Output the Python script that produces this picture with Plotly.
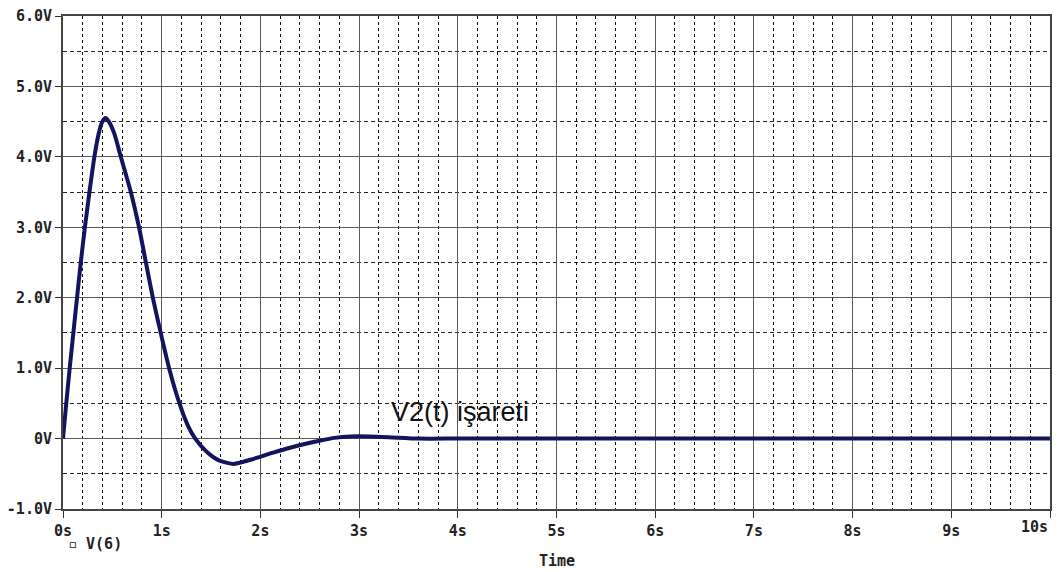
import plotly.graph_objects as go

# V(6) transient response, time in seconds, voltage in volts
time_s = [0, 0.033, 0.068, 0.105, 0.142, 0.18, 0.222, 0.268, 0.318, 0.36, 0.395,
          0.43, 0.465, 0.52, 0.586, 0.687, 0.77, 0.84, 0.91, 0.99, 1.075, 1.18,
          1.27, 1.34, 1.45, 1.58, 1.73, 1.9, 2.13, 2.3, 2.47, 2.6, 2.75, 2.91,
          3.1, 3.3, 3.6, 4.0, 5.0, 6.0, 7.0, 8.0, 9.0, 10.0]
v6 = [0, 0.5, 1.0, 1.5, 2.0, 2.5, 3.0, 3.5, 4.0, 4.32, 4.49,
      4.55, 4.5, 4.33, 4.0, 3.5, 3.0, 2.5, 2.0, 1.5, 1.0, 0.5,
      0.17, 0.0, -0.18, -0.31, -0.36, -0.3, -0.2, -0.13, -0.07, -0.03, 0.01, 0.03,
      0.03, 0.02, 0.0, 0.0, 0.0, 0.0, 0.0, 0.0, 0.0, 0.0]

x_ticks = list(range(0, 11))
x_labels = [f"{t}s" for t in x_ticks]
y_ticks = [-1, 0, 1, 2, 3, 4, 5, 6]
y_labels = ["-1.0V", "0V", "1.0V", "2.0V", "3.0V", "4.0V", "5.0V", "6.0V"]

tick_font = dict(family="DejaVu Sans Mono", size=15, color="#222222", weight="bold")

fig = go.Figure()
fig.add_trace(go.Scatter(
    x=time_s, y=v6, mode="lines",
    line=dict(color="#14145e", width=4, shape="spline", smoothing=0.6),
    showlegend=False,
))

# the last time label sits inside the right edge, so it is placed separately
x_ticktext = x_labels[:-1] + [""]

fig.update_layout(
    width=1059, height=572,
    margin=dict(l=62, r=7, t=14, b=63),
    paper_bgcolor="white", plot_bgcolor="white",
    xaxis=dict(
        range=[0, 10], tickvals=x_ticks, ticktext=x_ticktext,
        tickfont=tick_font, ticks="outside", ticklen=7, tickcolor="#333",
        showgrid=True, gridcolor="#5a5a5a", gridwidth=1,
        showline=True, linecolor="#444", linewidth=2, mirror=True,
        zeroline=False,
        minor=dict(dtick=0.2, showgrid=True, gridcolor="#111", gridwidth=1,
                   griddash="3px,3px", ticks=""),
    ),
    yaxis=dict(
        range=[-1, 6], tickvals=y_ticks, ticktext=y_labels,
        tickfont=tick_font, ticks="outside", ticklen=6, tickcolor="#333",
        showgrid=True, gridcolor="#5a5a5a", gridwidth=1,
        showline=True, linecolor="#444", linewidth=2, mirror=True,
        zeroline=False,
        minor=dict(dtick=0.5, showgrid=True, gridcolor="#222", gridwidth=1,
                   griddash="4px,3px", ticks=""),
    ),
)

fig.add_annotation(
    x=x_ticks[-1], y=0, xref="x", yref="paper", xanchor="right", yanchor="top",
    yshift=-7, text=x_labels[-1], showarrow=False, font=tick_font,
)
fig.add_annotation(
    x=3.3, y=0.38, xref="x", yref="y", xanchor="left", yanchor="middle",
    text="V2(t) işareti", showarrow=False,
    font=dict(family="Liberation Sans", size=27, color="#111"),
)
fig.add_annotation(
    x=0.5, y=-0.105, xref="paper", yref="paper", xanchor="center", yanchor="middle",
    text="Time", showarrow=False, font=tick_font,
)
fig.add_annotation(
    x=0.003, y=-0.07, xref="paper", yref="paper", xanchor="left", yanchor="middle",
    text="▫ V(6)", showarrow=False, font=tick_font,
)

fig.write_html("out.html")
